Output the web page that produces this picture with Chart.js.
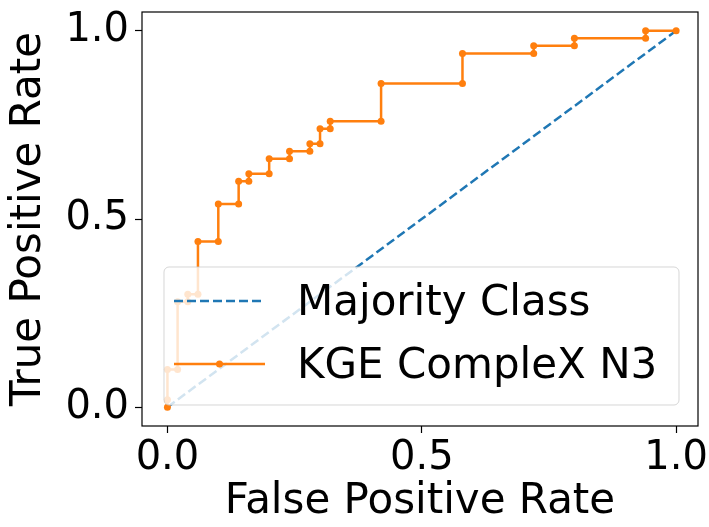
<!DOCTYPE html>
<html>
<head>
<meta charset="utf-8">
<script src="https://cdn.jsdelivr.net/npm/chart.js@4"></script>
<style>
  html, body { margin: 0; padding: 0; background: #fff; }
  canvas { display: block; }
</style>
</head>
<body>
<canvas id="roc" width="709" height="527"></canvas>
<script>
// ROC curve points
const fpr = [0, 0, 0, 0.02, 0.02, 0.04, 0.04, 0.06, 0.06, 0.10, 0.10, 0.14, 0.14, 0.16, 0.16, 0.20, 0.20,
  0.24, 0.24, 0.28, 0.28, 0.30, 0.30, 0.32, 0.32, 0.42, 0.42, 0.58, 0.58, 0.72, 0.72, 0.80, 0.80, 0.94, 0.94, 1.0];
const tpr = [0, 0.02, 0.10, 0.10, 0.28, 0.28, 0.30, 0.30, 0.44, 0.44, 0.54, 0.54, 0.60, 0.60, 0.62, 0.62, 0.66,
  0.66, 0.68, 0.68, 0.70, 0.70, 0.74, 0.74, 0.76, 0.76, 0.86, 0.86, 0.94, 0.94, 0.96, 0.96, 0.98, 0.98, 1.0, 1.0];
const baseX = [0, 1];
const baseY = [0, 1];
const xTicks = [0, 0.5, 1.0];
const yTicks = [0, 0.5, 1.0];
const labels = ['Majority Class', 'KGE CompleX N3'];

const BLUE = '#1f77b4';
const ORANGE = '#ff7f0e';
const FONT = 'DejaVu Sans, sans-serif';

const toPoints = (xs, ys) => xs.map((x, i) => ({ x: x, y: ys[i] }));

// matplotlib-style frame + legend inside the axes
const framePlugin = {
  id: 'frameAndLegend',
  afterDatasetsDraw(chart) {
    const { ctx, chartArea: a } = chart;
    ctx.save();

    // legend box
    const bx = a.left + 22, by = a.top + 255, bw = 515, bh = 138, r = 5;
    ctx.beginPath();
    ctx.moveTo(bx + r, by);
    ctx.arcTo(bx + bw, by, bx + bw, by + bh, r);
    ctx.arcTo(bx + bw, by + bh, bx, by + bh, r);
    ctx.arcTo(bx, by + bh, bx, by, r);
    ctx.arcTo(bx, by, bx + bw, by, r);
    ctx.closePath();
    ctx.fillStyle = 'rgba(255,255,255,0.8)';
    ctx.fill();
    ctx.strokeStyle = 'rgba(204,204,204,0.8)';
    ctx.lineWidth = 1;
    ctx.stroke();

    const hx0 = bx + 10, hx1 = bx + 101;
    const rows = [by + 34, by + 97];
    chart.data.datasets.forEach((ds, i) => {
      const yy = rows[i];
      ctx.beginPath();
      ctx.setLineDash(ds.borderDash || []);
      ctx.strokeStyle = ds.borderColor;
      ctx.lineWidth = ds.borderWidth;
      ctx.moveTo(hx0, yy);
      ctx.lineTo(hx1, yy);
      ctx.stroke();
      ctx.setLineDash([]);
      if (ds.pointRadius > 0) {
        ctx.beginPath();
        ctx.fillStyle = ds.borderColor;
        ctx.arc((hx0 + hx1) / 2, yy, ds.pointRadius, 0, Math.PI * 2);
        ctx.fill();
      }
      ctx.fillStyle = '#000';
      ctx.font = '42px ' + FONT;
      ctx.textBaseline = 'alphabetic';
      ctx.fillText(labels[i], bx + 133, yy + 14);
    });

    // full box around the axes
    ctx.strokeStyle = '#000';
    ctx.lineWidth = 1.2;
    ctx.strokeRect(a.left, a.top, a.right - a.left, a.bottom - a.top);
    ctx.restore();
  }
};

new Chart(document.getElementById('roc'), {
  type: 'line',
  data: {
    datasets: [
      {
        label: labels[0],
        data: toPoints(baseX, baseY),
        borderColor: BLUE,
        borderWidth: 2.5,
        borderDash: [9, 4],
        pointRadius: 0,
        fill: false,
        order: 1,
      },
      {
        label: labels[1],
        data: toPoints(fpr, tpr),
        borderColor: ORANGE,
        backgroundColor: ORANGE,
        borderWidth: 2.5,
        pointRadius: 3.5,
        pointBorderWidth: 0,
        pointBackgroundColor: ORANGE,
        fill: false,
        tension: 0,
        order: 0,
      }
    ]
  },
  options: {
    responsive: false,
    animation: false,
    devicePixelRatio: 1,
    layout: { padding: { left: 0, top: 12, right: 11, bottom: 0 } },
    plugins: {
      legend: { display: false },
      tooltip: { enabled: false },
    },
    scales: {
      x: {
        type: 'linear',
        min: -0.05,
        max: 1.043,
        afterFit: s => { s.height = 101; s.paddingLeft = 0; s.paddingRight = 0; },
        afterBuildTicks: s => { s.ticks = xTicks.map(v => ({ value: v })); },
        border: { display: false },
        grid: { drawOnChartArea: false, drawTicks: true, tickLength: 7, tickColor: '#000', tickWidth: 1.2 },
        ticks: {
          color: '#000',
          padding: 2,
          maxRotation: 0,
          font: { family: FONT, size: 40 },
          callback: v => v.toFixed(1),
        },
        title: {
          display: true,
          text: 'False Positive Rate',
          color: '#000',
          font: { family: FONT, size: 42 },
          padding: { top: 0, bottom: 0 },
        },
      },
      y: {
        type: 'linear',
        min: -0.05,
        max: 1.05,
        afterFit: s => { s.width = 142; s.paddingTop = 0; s.paddingBottom = 0; },
        afterBuildTicks: s => { s.ticks = yTicks.map(v => ({ value: v })); },
        border: { display: false },
        grid: { drawOnChartArea: false, drawTicks: true, tickLength: 7, tickColor: '#000', tickWidth: 1.2 },
        ticks: {
          color: '#000',
          padding: 6,
          font: { family: FONT, size: 40 },
          callback: v => v.toFixed(1),
        },
        title: {
          display: true,
          text: 'True Positive Rate',
          color: '#000',
          font: { family: FONT, size: 42 },
          padding: { top: 4, bottom: 0 },
        },
      }
    }
  },
  plugins: [framePlugin]
});
</script>
</body>
</html>
